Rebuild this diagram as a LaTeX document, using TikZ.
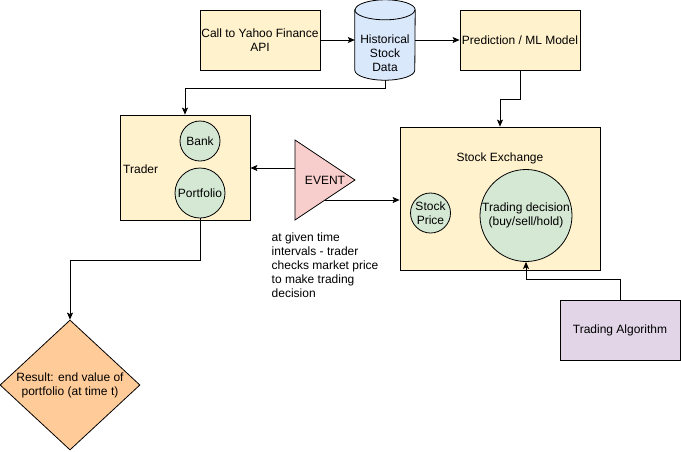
\documentclass[tikz,border=0pt]{standalone}
\usepackage{fontspec}
\setmainfont{Liberation Sans}
\usetikzlibrary{shapes.geometric,arrows.meta,calc}
\definecolor{yel}{HTML}{FFF2CC}
\definecolor{grn}{HTML}{D5E8D4}
\definecolor{blu}{HTML}{DAE8FC}
\definecolor{pnk}{HTML}{F8CECC}
\definecolor{org}{HTML}{FFCC99}
\definecolor{prp}{HTML}{E1D5E7}
\begin{document}
\begin{tikzpicture}[x=1pt,y=-1pt,
  font=\fontsize{12}{14}\selectfont,
  every node/.style={inner sep=0pt, align=center},
  ln/.style={draw=black, line width=0.8pt},
  box/.style={ln, fill=yel, minimum width=120pt, minimum height=60pt},
  circ/.style={ln, fill=grn, circle},
  arr/.style={line width=0.8pt, -{Stealth[length=7pt,width=6pt,inset=1.5pt]}}
]
\useasboundingbox[fill=white] (0,0) rectangle (681,451);

% top row
\node[box] (yahoo) at (260,40) {Call to Yahoo Finance\\API};
\node[box] (pred) at (520,40) {Prediction / ML Model};
\node[minimum width=60pt, minimum height=80pt] (hist) at (385,40) {};
\draw[ln, fill=blu] ([yshift=-10pt]hist.north west) -- ([yshift=10pt]hist.south west)
  arc[start angle=180, end angle=360, x radius=30pt, y radius=10pt]
  -- ([yshift=-10pt]hist.north east)
  arc[start angle=0, end angle=180, x radius=30pt, y radius=10pt] -- cycle;
\draw[ln] ([yshift=-10pt]hist.north west)
  arc[start angle=180, end angle=360, x radius=30pt, y radius=10pt];
\node (histtxt) at (385,53.5) {Historical\\Stock\\Data};

% trader
\node[ln, fill=yel, minimum width=130pt, minimum height=105pt] (trader) at (185,167.5) {};
\node[anchor=west] (tradertxt) at (123,169) {Trader};
\node[circ, minimum size=40pt] (bank) at (200,141) {Bank};
\node[circ, minimum size=50pt] (port) at (200,193) {Portfolio};

% event
\draw[ln, fill=pnk] (295,140) -- (355,180) -- (295,220) -- cycle;
\node (event) at (325,180) {EVENT};
\coordinate (evw) at (295,168);
\coordinate (evs) at (325,200);

\node[anchor=north west, align=left] (note) at (271.5,232.5)
  {at given time\\intervals - trader\\checks market price\\to make trading\\decision};

% stock exchange
\node[ln, fill=yel, minimum width=200pt, minimum height=143pt] (exch) at (500,198.5) {};
\node (exchtxt) at (500,158) {Stock Exchange};
\node[circ, minimum size=40pt] (price) at (430.5,213) {Stock\\Price};
\node[circ, minimum size=92pt] (dec) at (526,215.5) {Trading decision\\(buy/sell/hold)};

% algorithm
\node[ln, fill=prp, minimum width=120pt, minimum height=60pt] (algo) at (620,330) {Trading Algorithm};

% result
\node[ln, fill=org, diamond, minimum width=140pt, minimum height=130pt, aspect=1.077] (res) at (70,385)
  {Result: end value of\\portfolio (at time t)};

% connectors
\draw[arr] (yahoo.east) -- (hist.west);
\draw[arr] (hist.east) -- (pred.west);
\draw[arr] (hist.south) -- ++(0,8) -| (trader.north);
\draw[arr] (pred.south) -- ++(0,29) -| (exch.north);
\draw[arr] (evw) -- (trader.east |- evw);
\draw[arr] (evs) -- (exch.west |- evs);
\draw[arr] (algo.north) -- ++(0,-20) -| (dec.south);
\draw[arr] (port.south) -- ++(0,42) -| (res.north);
\end{tikzpicture}
\end{document}
